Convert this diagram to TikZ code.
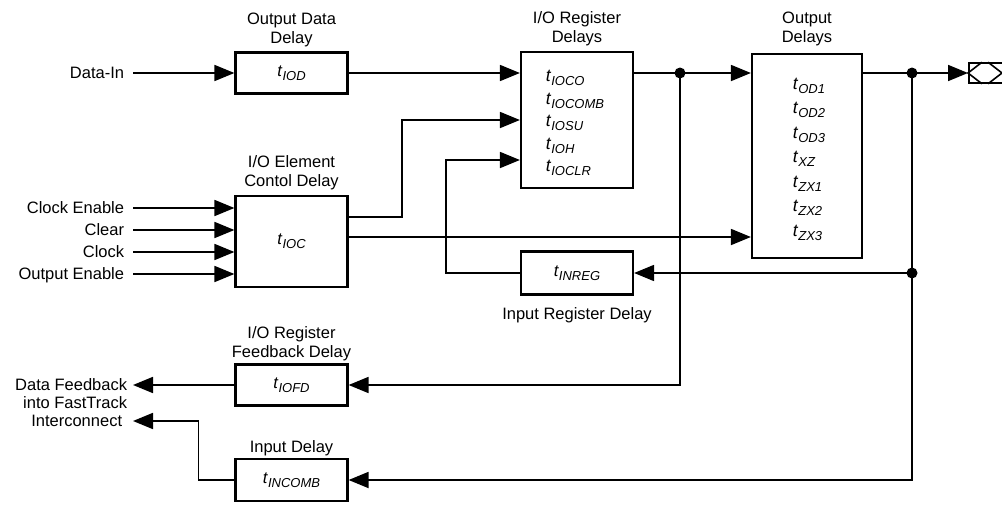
\documentclass[tikz,border=0pt]{standalone}
\usepackage{fontspec}
\setmainfont{Liberation Sans}
\usetikzlibrary{positioning,arrows.meta}
\newcommand{\tdel}[1]{\textit{t}\raisebox{-4pt}{\fontsize{13}{13}\selectfont\itshape #1}}

\begin{document}
\begin{tikzpicture}[x=1pt,y=-1pt,line width=1.8pt,
    font=\fontsize{16.5}{19}\selectfont,
    >={Triangle[length=20pt,width=16pt]},
    delay_box/.style={draw,line width=2.2pt,minimum width=112pt,inner sep=0pt},
    delay_entry/.style={anchor=west,inner sep=0pt,font=\fontsize{17.5}{19}\selectfont},
    box_label/.style={align=center,inner sep=1pt},
    sig_label/.style={anchor=east,inner xsep=8pt,inner ysep=0pt,text height=11.8pt,text depth=0pt},
    junction/.style={circle,fill,inner sep=0pt,minimum size=11pt}]

    \useasboundingbox (0,0) rectangle (1002,506);

    % delay blocks
    \node[delay_box,minimum height=41pt] (iod) at (291.5,73) {\tdel{IOD}};
    \node[delay_box,minimum height=136pt] (ioreg) at (577,120) {};
    \node[delay_box,minimum height=91pt] (ioc) at (291.5,241.5) {\tdel{IOC}};
    \node[delay_box,minimum width=110pt,minimum height=204pt] (outd) at (807,156) {};
    \node[delay_box,minimum height=43pt] (inreg) at (577,273) {\tdel{INREG}};
    \node[delay_box,minimum height=41pt] (iofd) at (291.5,385) {\tdel{IOFD}};
    \node[delay_box,minimum height=42pt] (incomb) at (291.5,480) {\tdel{INCOMB}};

    \foreach \s [count=\i] in {IOCO,IOCOMB,IOSU,IOH,IOCLR}
        \node[delay_entry] (reg\i) at (545,55.5+22.5*\i) {\tdel{\s}};
    \foreach \s [count=\i] in {OD1,OD2,OD3,XZ,ZX1,ZX2,ZX3}
        \node[delay_entry] (out\i) at (792,61+24.5*\i) {\tdel{\s}};

    \node[box_label,above=3pt of iod] (iod_lbl) {Output Data\\Delay};
    \node[box_label,above=3pt of ioreg] (ioreg_lbl) {I/O Register\\Delays};
    \node[box_label,above=3pt of ioc] (ioc_lbl) {I/O Element\\Contol Delay};
    \node[box_label,above=5pt of outd] (outd_lbl) {Output\\Delays};
    \node[box_label,below=10pt of inreg] (inreg_lbl) {Input Register Delay};
    \node[box_label,above=0.5pt of iofd] (iofd_lbl) {I/O Register\\Feedback Delay};
    \node[box_label,above=0pt of incomb] (incomb_lbl) {Input Delay};

    % signals
    \node[sig_label] (datain) at (133,73) {Data-In};
    \node[sig_label] (clken) at (133,208) {Clock Enable};
    \node[sig_label] (clr) at (133,230) {Clear};
    \node[sig_label] (clk) at (133,252) {Clock};
    \node[sig_label] (oe) at (133,274) {Output Enable};
    \node[sig_label,inner xsep=5pt] (fb1) at (133,385) {Data Feedback};
    \node[sig_label,inner xsep=5pt] (fb2) at (133,403) {into FastTrack};
    \node[sig_label,inner xsep=10pt] (fb3) at (133,421) {Interconnect};

    % pin
    \node[draw,line width=1.6pt,minimum width=42pt,minimum height=20pt,inner sep=0pt,anchor=west] (pin) at (968,73) {};
    \draw[line width=1.6pt] ([xshift=14pt]pin.north west) -- (pin.west) -- ([xshift=14pt]pin.south west);
    \draw[line width=1.6pt] ([xshift=20pt]pin.north west) -- ([xshift=34pt]pin.west) -- ([xshift=20pt]pin.south west);

    \coordinate (j1) at (680,73);
    \coordinate (j2) at (912,73);
    \coordinate (j3) at (912,273);
    \coordinate (ioc_clk) at ([yshift=24.5pt]ioc.east);
    \coordinate (ioc_ctl) at ([yshift=4.5pt]ioc.east);

    \draw[->] (datain.east) -- (iod.west);
    \draw[->] (iod.east) -- (ioreg.west |- iod.east);
    \draw[->] (clken.east) -- (ioc.west |- clken.east);
    \draw[->] (clr.east) -- (ioc.west |- clr.east);
    \draw[->] (clk.east) -- (ioc.west |- clk.east);
    \draw[->] (oe.east) -- (ioc.west |- oe.east);
    \draw[->] (ioc_clk) -- ++(53,0) |- (ioreg.west);
    \draw[->] (ioc_ctl) -- (outd.west |- ioc_ctl);
    \draw[->] (inreg.west) -- ++(-74,0) |- ([yshift=-40pt]ioreg.west);
    \draw (ioreg.east |- j1) -- (j1);
    \draw[->] (j1) -- (outd.west |- j1);
    \draw (outd.east |- j2) -- (j2);
    \draw[->] (j2) -- (pin.west);
    \draw[->] (j3) -- (inreg.east);
    \draw[->] (j1) |- (iofd.east);
    \draw[->] (j2) |- (incomb.east);
    \draw[->] (iofd.west) -- (fb1.east);
    \draw[->] (incomb.west) -- ++(-36,0) |- (fb3.east);

    \node[junction] (d1) at (j1) {};
    \node[junction] (d2) at (j2) {};
    \node[junction] (d3) at (j3) {};
\end{tikzpicture}
\end{document}
